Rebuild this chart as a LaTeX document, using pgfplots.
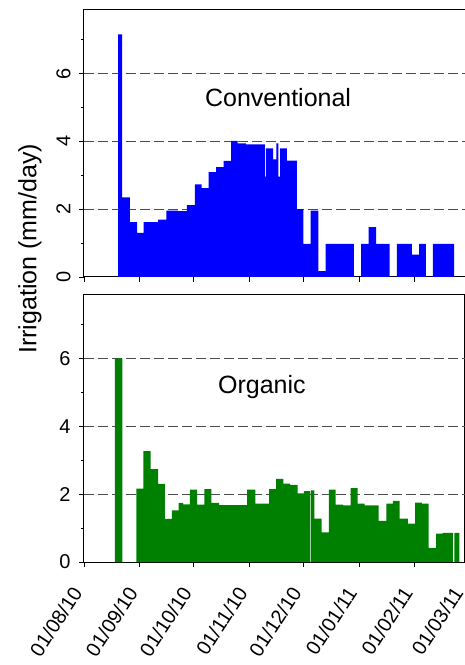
\documentclass[border=0pt]{standalone}
\usepackage{fontspec}
\setmainfont{Liberation Sans}
\usepackage{pgfplots}
\pgfplotsset{compat=1.18}

\definecolor{convblue}{RGB}{0,0,255}
\definecolor{orggreen}{RGB}{0,128,0}
\definecolor{gridgray}{RGB}{75,75,75}

% days counted from 01/08/10
\pgfplotsset{irrig/.style={
    scale only axis, width=381pt, height=268pt,
    xmin=0, xmax=212, ymin=0, ymax=7.9,
    xtick={0,31,61,92,122,153,184,212},
    ytick={0,2,4,6}, minor ytick={1,3,5,7},
    tick align=outside, xtick pos=bottom, ytick pos=left,
    major tick length=5pt, minor tick length=3pt,
    tick style={black, line width=0.8pt},
    axis line style={line width=1pt},
    extra y ticks={2,4,6}, extra y tick labels={},
    extra y tick style={grid=major, major tick length=0pt},
    grid style={dash pattern=on 10pt off 4pt, gridgray, line width=1.3pt},
    tick label style={font=\fontsize{20}{20}\selectfont},
    yticklabel shift=5pt,
    /pgf/number format/assume math mode=true,
  }}

\begin{document}
\begin{tikzpicture}
  \useasboundingbox (-84pt,-103pt) rectangle (381pt,562pt);

  % conventional
  \begin{axis}[irrig, at={(0pt,285pt)},
      xticklabels={},
      yticklabel style={rotate=90, anchor=south}]
    \addplot[const plot, fill=convblue, draw=none] coordinates {
        (19,7.15) (21.2,2.35) (25.5,1.62) (29.5,1.3) (33.2,1.62) (41.2,1.69)
        (45.8,1.96) (52.2,1.94) (57.2,2.12) (61.7,2.73) (65.5,2.62) (69.4,3.09)
        (73.5,3.24) (77.7,3.42) (81.8,4.01) (85.5,3.94) (90.1,3.91) (100.7,2.96)
        (101.2,3.79) (105.3,3.47) (107.1,3.94) (108.2,2.96) (109.1,3.79) (112.9,3.43)
        (118.4,2.0) (122.1,0.98) (126.1,1.96) (130.4,0.17) (134.5,0.98) (150.1,0)
        (154.2,0.98) (158.4,1.47) (162.5,0.98) (170.1,0) (174.1,0.98) (182.4,0.66)
        (186.5,0.98) (190.2,0) (194.1,0.98) (205.9,0)
      } \closedcycle;
    \node[font=\fontsize{25}{25}\selectfont] at (axis cs:108,5.3) {Conventional};
  \end{axis}

  % organic
  \begin{axis}[irrig, at={(0pt,0pt)},
      xticklabels={01/08/10,01/09/10,01/10/10,01/11/10,01/12/10,01/01/11,01/02/11,01/03/11},
      xticklabel shift=19pt,
      xticklabel style={xshift=-5pt, rotate=57, anchor=east}]
    \addplot[const plot, fill=orggreen, draw=none] coordinates {
        (17.2,6.0) (21.4,0) (29.2,2.16) (33.1,3.27) (37.1,2.74) (41.2,2.3)
        (45.0,1.27) (48.9,1.52) (52.6,1.74) (55.2,1.70) (58.9,2.13) (63.0,1.69)
        (67.0,2.15) (70.9,1.74) (75.2,1.68) (90.8,2.13) (95.3,1.72) (103.0,2.15)
        (106.9,2.45) (111.0,2.31) (114.7,2.27) (118.9,2.02) (122.4,2.09) (125.8,0)
        (126.3,2.11) (128.2,1.28) (132.2,0.87) (136.3,2.13) (140.0,1.69) (144.2,1.67)
        (148.3,2.18) (152.2,1.72) (156.2,1.67) (164.0,1.21) (168.2,1.72) (171.9,1.8)
        (175.6,1.28) (180.2,1.13) (184.3,1.75) (188.0,1.72) (191.7,0.42) (195.9,0.84)
        (199.6,0.86) (205.2,0) (206.1,0.86) (208.9,0)
      } \closedcycle;
    \node[font=\fontsize{25}{25}\selectfont] at (axis cs:99,5.16) {Organic};
  \end{axis}

  \node[rotate=90, font=\fontsize{25}{25}\selectfont] at (-54pt,313pt) {Irrigation (mm/day)};
\end{tikzpicture}
\end{document}
